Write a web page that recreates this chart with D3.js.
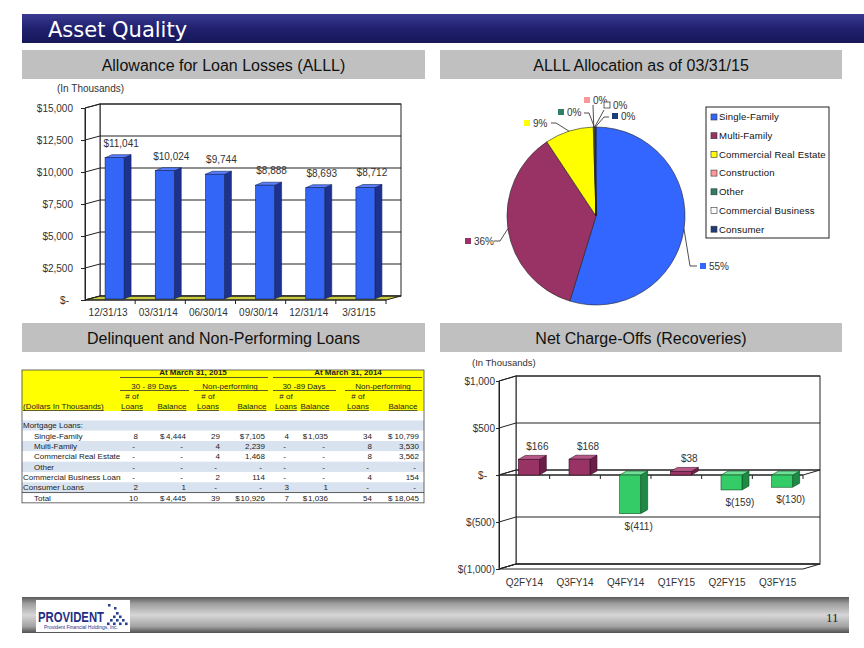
<!DOCTYPE html>
<html><head><meta charset="utf-8">
<script src="https://cdn.jsdelivr.net/npm/d3@7/dist/d3.min.js"></script>
<style>
html,body{margin:0;padding:0;background:#fff;}
svg{display:block;}
text{font-family:"Liberation Sans",Arial,Helvetica,sans-serif;}
</style></head>
<body>
<svg id="chart" width="864" height="648"></svg>
<script>
// ================= DATA =================
const alllDates = ["12/31/13","03/31/14","06/30/14","09/30/14","12/31/14","3/31/15"];
const alllValues = [11041,10024,9744,8888,8693,8712];
const alllTicks = [0,2500,5000,7500,10000,12500,15000];

const pieCategories = ["Single-Family","Multi-Family","Commercial Real Estate","Construction","Other","Commercial Business","Consumer"];
const pieValues = [4770,3130,770,15,2,10,15];
const pieColors = ["#3366ff","#993366","#ffff00","#ff9999","#2f7f66","#ffffff","#1f3c78"];

const ncoQuarters = ["Q2FY14","Q3FY14","Q4FY14","Q1FY15","Q2FY15","Q3FY15"];
const ncoValues = [166,168,-411,38,-159,-130];
const ncoTicks = [-1000,-500,0,500,1000];

const tableRows = ["Mortgage Loans:","Single-Family","Multi-Family","Commercial Real Estate","Other","Commercial Business Loans","Consumer Loans","Total"];
const tableRowLevel = [0,1,1,1,1,0,0,1];
const loans3089_2015 = [null,8,0,0,0,0,2,10];
const bal3089_2015   = [null,4444,0,0,0,0,1,4445];
const loansNP_2015   = [null,29,4,4,0,2,0,39];
const balNP_2015     = [null,7105,2239,1468,0,114,0,10926];
const loans3089_2014 = [null,4,0,0,0,0,3,7];
const bal3089_2014   = [null,1035,0,0,0,0,1,1036];
const loansNP_2014   = [null,34,8,8,0,4,0,54];
const balNP_2014     = [null,10799,3530,3562,0,154,0,18045];
const dollarRows = ["Single-Family","Total"];

// ================= SETUP =================
const svg = d3.select("#chart");
svg.append("rect").attr("width",864).attr("height",648).attr("fill","#fff");
const defs = svg.append("defs");
function grad(id, stops, vertical){
  const g = defs.append("linearGradient").attr("id",id)
    .attr("x1",0).attr("y1",0).attr("x2",vertical?0:1).attr("y2",vertical?1:0);
  stops.forEach(([o,c])=>g.append("stop").attr("offset",o).attr("stop-color",c));
}
grad("titleG",[[0,"#3a3a92"],[0.5,"#20206e"],[1,"#17175a"]],true);
grad("footG",[[0,"#5a5a5a"],[0.18,"#9c9c9c"],[0.5,"#d6d6d6"],[0.82,"#a2a2a2"],[1,"#4e4e4e"]],true);

// Title bar
svg.append("rect").attr("x",22).attr("y",14).attr("width",842).attr("height",29).attr("fill","url(#titleG)");
svg.append("text").attr("x",48).attr("y",36.5).text("Asset Quality")
  .attr("fill","#fff").style("font-family","'DejaVu Sans',Verdana,sans-serif").style("font-size","21px");

// Section headers
const sectionHeaders = [
  {x:22,y:50,w:403,t:"Allowance for Loan Losses (ALLL)"},
  {x:440,y:50,w:402,t:"ALLL Allocation as of 03/31/15"},
  {x:22,y:323,w:403,t:"Delinquent and Non-Performing Loans"},
  {x:440,y:323,w:402,t:"Net Charge-Offs (Recoveries)"}
];
sectionHeaders.forEach(h=>{
  svg.append("rect").attr("x",h.x).attr("y",h.y).attr("width",h.w).attr("height",29).attr("fill","#c0c0c0");
  svg.append("text").attr("x",h.x+h.w/2).attr("y",h.y+21).attr("text-anchor","middle")
    .attr("fill","#111").style("font-size","16px").text(h.t);
});

// ================= 3D BAR CHART =================
function draw3D(cfg){
  const g = svg.append("g");
  const y = cfg.y, x0 = cfg.x0, x1 = cfg.x1, dx = cfg.dx, dy = cfg.dy;
  const [vmin,vmax] = y.domain();
  const yb = y(vmin), yt = y(vmax), y0 = y(0);
  const stroke = "#222";
  g.append("rect").attr("x",x0+dx).attr("y",yt+dy).attr("width",x1-x0).attr("height",yb-yt)
    .attr("fill","#fff").attr("stroke",stroke).attr("stroke-width",1);
  g.append("path").attr("d",`M${x0},${yt}L${x0+dx},${yt+dy}L${x0+dx},${yb+dy}L${x0},${yb}Z`)
    .attr("fill","#fff").attr("stroke",stroke).attr("stroke-width",1);
  g.append("path").attr("d",`M${x0},${yb}L${x0+dx},${yb+dy}L${x1+dx},${yb+dy}L${x1},${yb}Z`)
    .attr("fill",cfg.floorFill||"none").attr("stroke",stroke).attr("stroke-width",1);
  cfg.ticks.forEach(t=>{
    const yy = y(t);
    g.append("line").attr("x1",x0+dx).attr("x2",x1+dx).attr("y1",yy+dy).attr("y2",yy+dy)
      .attr("stroke",stroke).attr("stroke-width",1);
    g.append("line").attr("x1",x0).attr("x2",x0+dx).attr("y1",yy).attr("y2",yy+dy)
      .attr("stroke",stroke).attr("stroke-width",1);
  });
  if (vmin < 0){
    g.append("path").attr("d",`M${x0},${y0}L${x0+dx},${y0+dy}L${x1+dx},${y0+dy}L${x1},${y0}Z`)
      .attr("fill","none").attr("stroke",stroke).attr("stroke-width",1);
  }
  const ax = g.append("g").attr("transform",`translate(${x0},0)`)
    .call(d3.axisLeft(y).tickValues(cfg.ticks).tickFormat(cfg.fmt).tickSizeOuter(0)
      .tickSizeInner(cfg.tickSize).tickPadding(cfg.tickPad));
  ax.select(".domain").attr("stroke",stroke);
  ax.selectAll(".tick line").attr("stroke",stroke);
  ax.selectAll(".tick text").attr("fill","#333").style("font-size","10px")
    .style("font-family","'Liberation Sans',Arial,sans-serif")
    .attr("dx",d=>d===0?cfg.zeroShift:0);
  const xb = d3.scaleBand().domain(cfg.cats).range([x0,x1]);
  const cax = g.append("g").attr("transform",`translate(0,${yb})`)
    .call(d3.axisBottom(xb).tickSize(0).tickPadding(cfg.catPad));
  cax.select(".domain").remove();
  cax.selectAll(".tick text").attr("fill","#333").style("font-size","10px")
    .style("font-family","'Liberation Sans',Arial,sans-serif").attr("dx",cfg.catShift);
  g.append("line").attr("x1",x0).attr("x2",x1).attr("y1",y0).attr("y2",y0).attr("stroke",stroke);
  g.selectAll(".bt").data(cfg.cats).join("line")
    .attr("x1",d=>xb(d)+xb.bandwidth()).attr("x2",d=>xb(d)+xb.bandwidth())
    .attr("y1",y0).attr("y2",y0+4).attr("stroke",stroke);
  const w = cfg.barW, bdx = cfg.barDx, bdy = cfg.barDy;
  const bars = g.selectAll(".bar").data(cfg.vals).join("g").attr("class","bar");
  bars.each(function(v,i){
    const gg = d3.select(this);
    const cx = xb(cfg.cats[i]) + xb.bandwidth()/2;
    const bx = cx + cfg.barShift;
    const ya = y(0)+cfg.barLift, yv = y(v)+cfg.barLift;
    const top = Math.min(ya,yv), bot = Math.max(ya,yv);
    const c = cfg.colors(v);
    gg.append("path").attr("d",`M${bx+w},${top}L${bx+w+bdx},${top+bdy}L${bx+w+bdx},${bot+bdy}L${bx+w},${bot}Z`)
      .attr("fill",c.side).attr("stroke",c.line).attr("stroke-width",0.6);
    gg.append("path").attr("d",`M${bx},${top}L${bx+bdx},${top+bdy}L${bx+w+bdx},${top+bdy}L${bx+w},${top}Z`)
      .attr("fill",c.top).attr("stroke",c.line).attr("stroke-width",0.6);
    gg.append("rect").attr("x",bx).attr("y",top).attr("width",w).attr("height",bot-top)
      .attr("fill",c.front).attr("stroke",c.line).attr("stroke-width",0.6);
    gg.append("text").attr("x",cx+cfg.labelDx)
      .attr("y", v>=0 ? yv - cfg.posGap : yv + cfg.negGap)
      .attr("text-anchor","middle").attr("fill","#333").style("font-size","10px")
      .text(cfg.valFmt(v));
  });
}

const fmtC = d3.format(",");
draw3D({
  y: d3.scaleLinear().domain([0,15000]).range([300,108]),
  x0:85, x1:386, dx:15, dy:-4, floorFill:"#c9c93e",
  ticks: alllTicks, fmt: d=> d===0 ? "$-" : "$"+fmtC(d),
  tickSize:4, tickPad:8, zeroShift:-4,
  cats: alllDates, vals: alllValues, catPad:9, catShift:-2,
  barW:19, barDx:7, barDy:-3, barShift:-5, barLift:-1,
  colors: ()=>({front:"#3366f6",side:"#1d3290",top:"#5a7fff",line:"#14245e"}),
  labelDx:11, posGap:11, negGap:16,
  valFmt: v=>"$"+fmtC(v)
});
svg.append("text").attr("x",57).attr("y",92).attr("fill","#333").style("font-size","10px").text("(In Thousands)");

draw3D({
  y: d3.scaleLinear().domain([-1000,1000]).range([569,381]),
  x0:499, x1:803, dx:17, dy:-5,
  ticks: ncoTicks, fmt: d=> d===0 ? "$-" : (d<0 ? "$("+fmtC(-d)+")" : "$"+fmtC(d)),
  tickSize:3, tickPad:1, zeroShift:-8,
  cats: ncoQuarters, vals: ncoValues, catPad:10, catShift:0,
  barW:21, barDx:7, barDy:-4, barShift:-6, barLift:0,
  colors: v=> v>=0 ? {front:"#993366",side:"#6a2046",top:"#b8588a",line:"#3a1026"}
                   : {front:"#33cc66",side:"#1e8a45",top:"#6fe197",line:"#0f4d24"},
  labelDx:13, posGap:9.5, negGap:16,
  valFmt: v=> v<0 ? "$("+fmtC(-v)+")" : "$"+fmtC(v)
});
svg.append("text").attr("x",472).attr("y",366).attr("fill","#333").style("font-size","9.5px").text("(In Thousands)");

// ================= PIE =================
const pcx = 596, pcy = 216, pr = 89;
const total = d3.sum(pieValues);
const pieData = d3.pie().sort(null).value(d=>d)(pieValues);
const arc = d3.arc().innerRadius(0).outerRadius(pr);
const pg = svg.append("g").attr("transform",`translate(${pcx},${pcy})`);
pg.selectAll("path").data(pieData).join("path").attr("d",arc)
  .attr("fill",(d,i)=>pieColors[i]).attr("stroke","#222").attr("stroke-width",0.6);

const pieLabelLayout = [
  {tx:709, ty:266, pts:[[690,266],[697,266]]},
  {tx:474, ty:241, pts:[[500,241],[494,241]]},
  {tx:533, ty:123, pts:[[556,123],[551,123]]},
  {tx:593, ty:100, pts:[[593,105]]},
  {tx:567, ty:112, pts:[[589,113],[584,113]]},
  {tx:613, ty:105, pts:[[604,110]]},
  {tx:621, ty:116, pts:[[604,117],[609,117]]}
];
const pct = d3.format(".0%");
pieData.forEach((d,i)=>{
  const L = pieLabelLayout[i];
  const a = (d.startAngle+d.endAngle)/2;
  const sx = pcx + pr*Math.sin(a), sy = pcy - pr*Math.cos(a);
  const pts = [[sx,sy]].concat(L.pts);
  svg.append("path").attr("d",d3.line()(pts)).attr("fill","none").attr("stroke","#222").attr("stroke-width",0.8);
  svg.append("rect").attr("x",L.tx-9).attr("y",L.ty-3).attr("width",6).attr("height",6)
    .attr("fill",pieColors[i]).attr("stroke", i===5 ? "#222" : "none").attr("stroke-width",0.7);
  svg.append("text").attr("x",L.tx).attr("y",L.ty).attr("dy","0.35em").attr("fill","#333")
    .style("font-size","10px").text(pct(d.value/total));
});

svg.append("rect").attr("x",706).attr("y",107).attr("width",123).attr("height",131)
  .attr("fill","#fff").attr("stroke","#222").attr("stroke-width",1);
const lg = svg.selectAll(".lg").data(pieCategories).join("g").attr("class","lg")
  .attr("transform",(d,i)=>`translate(711,${117+i*18.7})`);
lg.append("rect").attr("x",0).attr("y",-3).attr("width",6).attr("height",6)
  .attr("fill",(d,i)=>pieColors[i]).attr("stroke","#333").attr("stroke-width",0.6);
lg.append("text").attr("x",8).attr("dy","0.35em").attr("fill","#111").style("font-size","9.6px")
  .style("letter-spacing","0.15px").text(d=>d);

// ================= TABLE =================
const T = svg.append("g").style("font-size","8px");
const TL = 22, TR = 424;
const rowY = i => 425.6 + i*10.3;
T.append("rect").attr("x",TL).attr("y",370).attr("width",TR-TL).attr("height",41).attr("fill","#ffff00");
tableRows.forEach((r,i)=>{
  T.append("rect").attr("x",TL).attr("y",rowY(i)-5.15).attr("width",TR-TL).attr("height",10.3)
    .attr("fill", i%2===0 ? "#d9e3f0" : "#fff");
});
T.append("rect").attr("x",TL).attr("y",370).attr("width",TR-TL).attr("height",rowY(7)+5.15-370)
  .attr("fill","none").attr("stroke","#444").attr("stroke-width",0.8);
T.append("line").attr("x1",TL).attr("x2",TR).attr("y1",rowY(6)+5.15).attr("y2",rowY(6)+5.15).attr("stroke","#333").attr("stroke-width",0.8);

function tText(x,y,t,anchor,bold){
  return T.append("text").attr("x",x).attr("y",y).attr("dy","0.35em").attr("text-anchor",anchor||"start")
    .attr("fill","#222").style("font-weight",bold?"bold":"normal").text(t);
}
function uline(x1,x2,y){
  T.append("line").attr("x1",x1).attr("x2",x2).attr("y1",y).attr("y2",y).attr("stroke","#333").attr("stroke-width",0.8);
}
function underText(x,y,t,anchor){
  const n = tText(x,y,t,anchor);
  const w = n.node().getComputedTextLength();
  const xs = anchor==="middle" ? x-w/2 : x;
  uline(xs, xs+w, y+4.5);
}
tText(193,372.5,"At March 31, 2015","middle",true); uline(120,268,377.5);
tText(348,372.5,"At March 31, 2014","middle",true); uline(273,422,377.5);
tText(154,386,"30 - 89 Days","middle"); uline(120,189,390.5);
tText(230,386,"Non-performing","middle"); uline(194,268,390.5);
tText(304,386,"30 -89 Days","middle"); uline(273,336,390.5);
tText(383,386,"Non-performing","middle"); uline(345,422,390.5);
const colSpec = [
  {right:138, head:132, kind:"loans"},
  {right:186, head:172, kind:"bal", dollar:160},
  {right:220, head:208, kind:"loans"},
  {right:265, head:252, kind:"bal", dollar:243},
  {right:289, head:286, kind:"loans"},
  {right:328, head:315, kind:"bal", dollar:304},
  {right:372, head:358, kind:"loans"},
  {right:419, head:403, kind:"bal", dollar:388}
];
const colData = [loans3089_2015,bal3089_2015,loansNP_2015,balNP_2015,loans3089_2014,bal3089_2014,loansNP_2014,balNP_2014];
colSpec.forEach(c=>{
  if(c.kind==="loans") tText(c.head,396,"# of","middle");
  underText(c.head,406, c.kind==="loans" ? "Loans" : "Balance","middle");
});
underText(TL+1,406,"(Dollars In Thousands)","start");

defs.append("clipPath").attr("id","lblClip").append("rect").attr("x",TL).attr("y",410).attr("width",99).attr("height",100);
const lblG = T.append("g").attr("clip-path","url(#lblClip)");
tableRows.forEach((r,i)=>{
  lblG.append("text").attr("x",tableRowLevel[i] ? TL+12 : TL+1).attr("y",rowY(i)).attr("dy","0.35em")
    .attr("fill","#222").text(r);
});
colData.forEach((arr,ci)=>{
  const c = colSpec[ci];
  arr.forEach((v,ri)=>{
    if(v===null) return;
    if(v===0){ tText(c.right-3,rowY(ri),"-","end"); return; }
    const n = tText(c.right,rowY(ri),fmtC(v),"end");
    if(c.kind==="bal" && dollarRows.includes(tableRows[ri])){
      const w = n.node().getComputedTextLength();
      const dxp = Math.min(c.dollar, c.right - w - 5.2);
      tText(dxp,rowY(ri),"$","start");
    }
  });
});

// ================= FOOTER =================
svg.append("rect").attr("x",22).attr("y",597).attr("width",827).attr("height",36).attr("fill","url(#footG)");
svg.append("rect").attr("x",36).attr("y",600).attr("width",94).attr("height",32).attr("fill","#fff");
svg.append("text").attr("x",38).attr("y",622).attr("fill","#1f2f86").attr("textLength",66)
  .attr("lengthAdjust","spacingAndGlyphs").style("font-size","15px").style("font-weight","bold")
  .text("PROVIDENT");
const logoDots = [];
for(let r=0;r<4;r++){ for(let k=0;k<=r;k++){ logoDots.push([116 - r*3 + k*6, 612 + r*3.5]); } }
svg.selectAll(".ld").data(logoDots).join("rect").attr("class","ld")
  .attr("x",d=>d[0]).attr("y",d=>d[1]).attr("width",2.6).attr("height",2.6).attr("fill","#2a3f8f");
svg.append("rect").attr("x",108).attr("y",604).attr("width",2.5).attr("height",2.5).attr("fill","#2a3f8f");
svg.append("rect").attr("x",114).attr("y",607).attr("width",2.5).attr("height",2.5).attr("fill","#2a3f8f");
svg.append("text").attr("x",44).attr("y",629).attr("fill","#1f2f86").attr("textLength",74)
  .attr("lengthAdjust","spacingAndGlyphs").style("font-size","4.5px").text("Provident Financial Holdings, Inc.");
svg.append("text").attr("x",826).attr("y",622).attr("fill","#222")
  .style("font-family","'Liberation Serif','Times New Roman',serif").style("font-size","13px").text("11");
</script>
</body></html>
